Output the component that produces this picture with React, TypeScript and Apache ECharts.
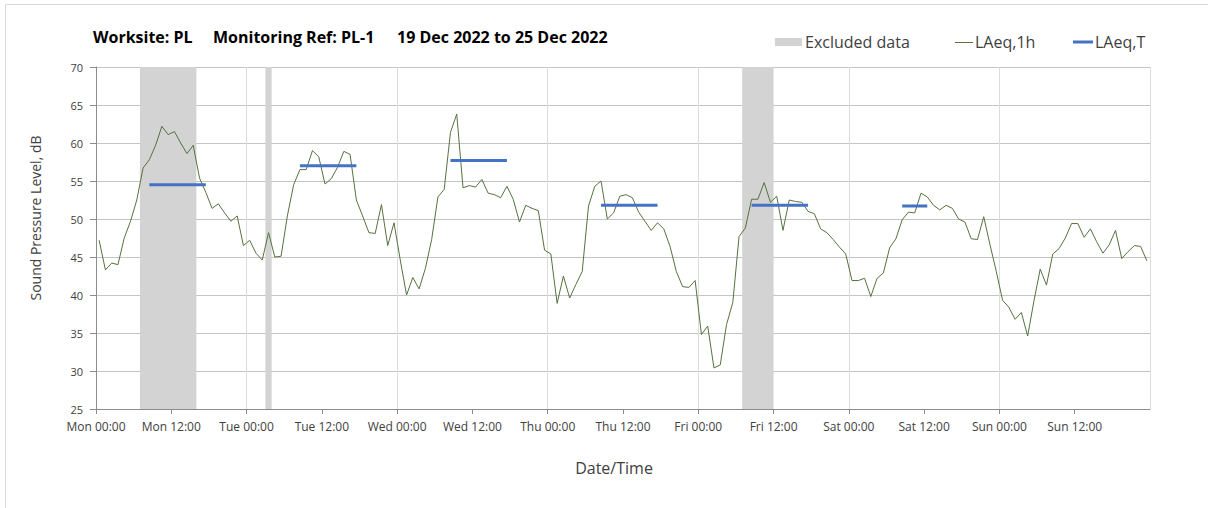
import React, { useEffect, useRef } from 'react';
import * as echarts from 'echarts';

const dayNames = ['Mon', 'Tue', 'Wed', 'Thu', 'Fri', 'Sat', 'Sun'];
const hourLabels = ['00:00', '12:00'];

// Hourly LAeq,1h values, Mon 00:00 .. Sun 23:00
const laeq1h = [
  47.2, 43.3, 44.2, 44.0, 47.5, 49.7, 52.5, 56.7, 57.8, 59.7,
  62.2, 61.1, 61.5, 60.0, 58.6, 59.7, 55.4, 53.5, 51.4, 52.0,
  50.8, 49.7, 50.4, 46.5, 47.2, 45.5, 44.6, 48.2, 45.0, 45.1,
  50.4, 54.5, 56.5, 56.5, 59.0, 58.2, 54.6, 55.3, 56.8, 58.9,
  58.5, 52.5, 50.4, 48.2, 48.1, 51.9, 46.5, 49.5, 44.6, 40.0,
  42.3, 40.8, 43.5, 47.3, 52.9, 53.9, 61.4, 63.8, 54.1, 54.4,
  54.2, 55.2, 53.4, 53.2, 52.8, 54.3, 52.6, 49.6, 51.8, 51.4,
  51.1, 45.9, 45.4, 38.9, 42.5, 39.6, 41.4, 43.1, 51.7, 54.3,
  55.0, 50.0, 50.8, 53.0, 53.2, 52.8, 50.9, 49.7, 48.5, 49.5,
  48.7, 46.4, 43.1, 41.1, 41.0, 41.9, 34.8, 35.9, 30.4, 30.8,
  36.1, 39.0, 47.7, 48.8, 52.6, 52.6, 54.8, 52.2, 53.0, 48.5,
  52.5, 52.3, 52.2, 51.0, 50.7, 48.7, 48.2, 47.3, 46.3, 45.4,
  41.9, 41.9, 42.2, 39.8, 42.2, 42.9, 46.2, 47.4, 49.9, 50.9,
  50.8, 53.4, 52.9, 51.8, 51.2, 51.8, 51.4, 50.0, 49.6, 47.4,
  47.3, 50.3, 46.6, 43.1, 39.3, 38.4, 36.8, 37.7, 34.6, 39.2,
  43.4, 41.3, 45.4, 46.1, 47.5, 49.4, 49.4, 47.6, 48.7, 47.0,
  45.5, 46.6, 48.5, 44.8, 45.7, 46.5, 46.4, 44.5,
];

// Excluded data periods (hours from Mon 00:00)
const excludedStart = [7, 27, 103];
const excludedEnd = [16, 28, 108];

// LAeq,T periods (first and last hourly index) and values
const periodStart = [8, 32, 56, 80, 104, 128];
const periodEnd = [17, 41, 65, 89, 113, 132];
const laeqT = [54.5, 57.0, 57.7, 51.8, 51.8, 51.7];

const titleParts = ['Worksite: PL', 'Monitoring Ref: PL-1', '19 Dec 2022 to 25 Dec 2022'];
const legendLabels = ['Excluded data', 'LAeq,1h', 'LAeq,T'];
const yAxisTitle = 'Sound Pressure Level, dB';
const xAxisTitle = 'Date/Time';

const FONT = 'Open Sans';
const GREEN = '#55723f';
const BLUE = '#4472c4';
const GREY_BAND = '#d3d3d3';
const TEXT = '#404040';

export default function App() {
  const ref = useRef<HTMLDivElement>(null);

  useEffect(() => {
    if (!ref.current) return;
    const chart = echarts.init(ref.current, undefined, { renderer: 'svg' });

    const titleX = [93, 213, 397];
    const legendY = 42;

    const option: any = {
      animation: false,
      backgroundColor: '#ffffff',
      textStyle: { fontFamily: FONT },
      grid: { left: 96, top: 67, right: 58, bottom: 99, containLabel: false },
      xAxis: [
        {
          type: 'value',
          min: 0,
          max: 168,
          interval: 12,
          axisLine: { show: true, lineStyle: { color: '#8c8c8c', width: 1 } },
          axisTick: { show: true, length: 5, lineStyle: { color: '#8c8c8c' } },
          splitLine: { show: false },
          axisLabel: {
            color: TEXT,
            fontSize: 12,
            fontFamily: FONT,
            margin: 11,
            showMaxLabel: false,
            formatter: (v: number) => {
              if (v >= 168) return '';
              const d = Math.floor(v / 24);
              const h = (v % 24) === 0 ? 0 : 1;
              return dayNames[d] + ' ' + hourLabels[h];
            },
          },
        },
        {
          type: 'value',
          position: 'top',
          min: 0,
          max: 168,
          interval: 24,
          axisLine: { show: false },
          axisTick: { show: false },
          axisLabel: { show: false },
          splitLine: { show: true, lineStyle: { color: '#dcdcdc', width: 1 } },
        },
      ],
      yAxis: {
        type: 'value',
        min: 25,
        max: 70,
        interval: 5,
        axisLine: { show: true, lineStyle: { color: '#8c8c8c', width: 1 } },
        axisTick: { show: true, length: 6, lineStyle: { color: '#8c8c8c' } },
        splitLine: { show: true, lineStyle: { color: '#c4c4c4', width: 1 } },
        axisLabel: { color: TEXT, fontSize: 11, fontFamily: FONT, margin: 13 },
      },
      series: [
        {
          type: 'line',
          name: 'LAeq,1h',
          xAxisIndex: 0,
          data: laeq1h.map((v, i) => [i + 0.5, v]),
          symbol: 'none',
          lineStyle: { color: GREEN, width: 1 },
          z: 3,
          markArea: {
            silent: true,
            itemStyle: { color: GREY_BAND },
            data: excludedStart.map((s, k) => [{ xAxis: s }, { xAxis: excludedEnd[k] }]),
          },
        },
        ...periodStart.map((s, k) => ({
          type: 'line',
          name: 'LAeq,T',
          xAxisIndex: 0,
          data: [
            [s + 0.5, laeqT[k]],
            [periodEnd[k] + 0.5, laeqT[k]],
          ],
          symbol: 'none',
          lineStyle: { color: BLUE, width: 3, cap: 'butt' },
          z: 4,
        })),
      ],
      graphic: [
        {
          type: 'line',
          shape: { x1: 5.5, y1: 4.5, x2: 1208, y2: 4.5 },
          style: { stroke: '#d9d9d9', lineWidth: 1 },
          silent: true,
        },
        {
          type: 'line',
          shape: { x1: 5.5, y1: 4.5, x2: 5.5, y2: 508 },
          style: { stroke: '#d9d9d9', lineWidth: 1 },
          silent: true,
        },
        ...titleParts.map((t, k) => ({
          type: 'text',
          x: titleX[k],
          y: 37,
          style: {
            text: t,
            fill: '#000000',
            font: `bold 16px "${FONT}"`,
            textAlign: 'left',
            textVerticalAlign: 'middle',
          },
        })),
        {
          type: 'rect',
          shape: { x: 775, y: 38, width: 27, height: 8 },
          style: { fill: GREY_BAND },
        },
        {
          type: 'text',
          x: 805,
          y: legendY,
          style: { text: legendLabels[0], fill: TEXT, font: `16px "${FONT}"`, textVerticalAlign: 'middle' },
        },
        {
          type: 'line',
          shape: { x1: 955, y1: legendY + 0.5, x2: 973, y2: legendY + 0.5 },
          style: { stroke: GREEN, lineWidth: 1 },
        },
        {
          type: 'text',
          x: 975,
          y: legendY,
          style: { text: legendLabels[1], fill: TEXT, font: `16px "${FONT}"`, textVerticalAlign: 'middle' },
        },
        {
          type: 'line',
          shape: { x1: 1073, y1: legendY, x2: 1093, y2: legendY },
          style: { stroke: BLUE, lineWidth: 3 },
        },
        {
          type: 'text',
          x: 1095,
          y: legendY,
          style: { text: legendLabels[2], fill: TEXT, font: `16px "${FONT}"`, textVerticalAlign: 'middle' },
        },
        {
          type: 'text',
          x: 35,
          y: 218,
          rotation: Math.PI / 2,
          style: {
            text: yAxisTitle,
            fill: TEXT,
            font: `14px "${FONT}"`,
            textAlign: 'center',
            textVerticalAlign: 'middle',
          },
        },
        {
          type: 'text',
          x: 614,
          y: 468,
          style: {
            text: xAxisTitle,
            fill: TEXT,
            font: `16px "${FONT}"`,
            textAlign: 'center',
            textVerticalAlign: 'middle',
          },
        },
      ],
    };

    chart.setOption(option);
    return () => chart.dispose();
  }, []);

  return (
    <div
      ref={ref}
      style={{ position: 'fixed', left: 0, top: 0, width: 1208, height: 508, background: '#fff' }}
    />
  );
}
